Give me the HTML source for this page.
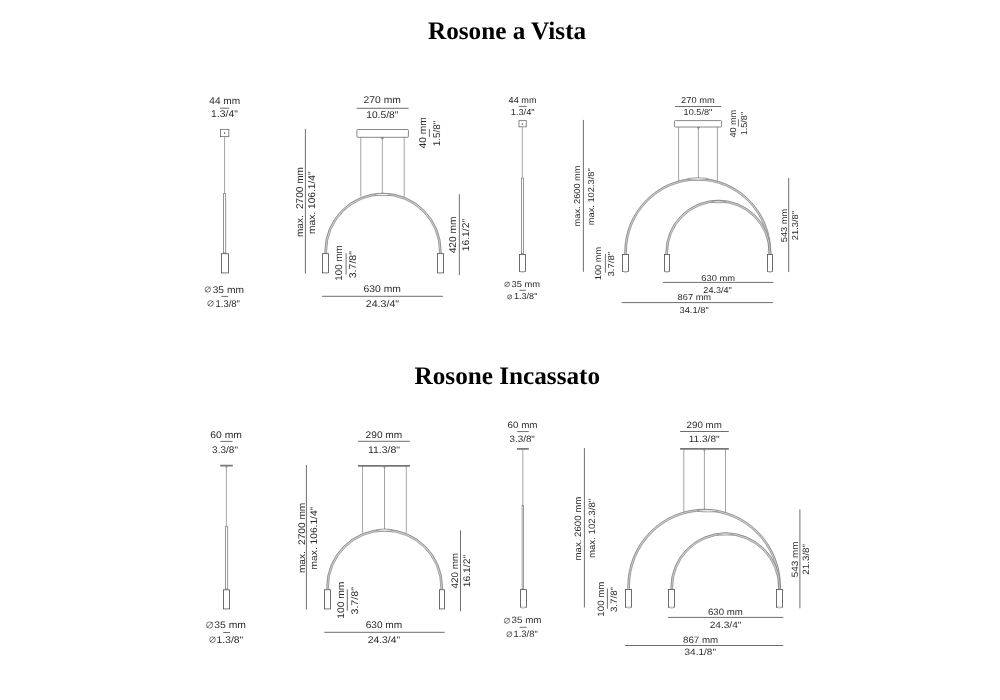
<!DOCTYPE html><html><head><meta charset="utf-8"><title>Rosone</title><style>html,body{margin:0;padding:0;background:#fff;width:1000px;height:700px;overflow:hidden}svg{display:block;filter:blur(0.3px)}text{font-family:"Liberation Sans",sans-serif;text-rendering:geometricPrecision}</style></head><body>
<svg width="1000" height="700" viewBox="0 0 1000 700">
<rect width="1000" height="700" fill="#fff"/>
<text x="507.1" y="39.0" text-anchor="middle" font-size="25.2" font-weight="bold" fill="#000" style="font-family:'Liberation Serif',serif">Rosone a Vista</text>
<text x="507.3" y="383.9" text-anchor="middle" font-size="25.2" font-weight="bold" fill="#000" style="font-family:'Liberation Serif',serif">Rosone Incassato</text>
<text x="224.77" y="104.12" text-anchor="middle" font-size="9.80" textLength="30.83" lengthAdjust="spacingAndGlyphs" fill="#2a2a2a">44 mm</text>
<text x="224.49" y="117.47" text-anchor="middle" font-size="9.80" textLength="26.70" lengthAdjust="spacingAndGlyphs" fill="#2a2a2a">1.3/4&quot;</text>
<text x="228.30" y="292.77" text-anchor="middle" font-size="9.80" textLength="31.22" lengthAdjust="spacingAndGlyphs" fill="#2a2a2a">35 mm</text>
<text x="227.77" y="306.94" text-anchor="middle" font-size="9.80" textLength="24.48" lengthAdjust="spacingAndGlyphs" fill="#2a2a2a">1.3/8&quot;</text>
<text x="382.28" y="103.45" text-anchor="middle" font-size="9.80" textLength="37.32" lengthAdjust="spacingAndGlyphs" fill="#2a2a2a">270 mm</text>
<text x="382.27" y="118.14" text-anchor="middle" font-size="9.80" textLength="32.03" lengthAdjust="spacingAndGlyphs" fill="#2a2a2a">10.5/8&quot;</text>
<text transform="translate(425.91,132.92) rotate(-90)" text-anchor="middle" font-size="9.80" textLength="31.24" lengthAdjust="spacingAndGlyphs" fill="#2a2a2a">40 mm</text>
<text transform="translate(440.11,133.49) rotate(-90)" text-anchor="middle" font-size="9.80" textLength="25.73" lengthAdjust="spacingAndGlyphs" fill="#2a2a2a">1.5/8&quot;</text>
<text transform="translate(302.59,202.07) rotate(-90)" text-anchor="middle" font-size="9.80" textLength="70.10" lengthAdjust="spacingAndGlyphs" fill="#2a2a2a">max.  2700 mm</text>
<text transform="translate(315.25,202.67) rotate(-90)" text-anchor="middle" font-size="9.80" textLength="62.72" lengthAdjust="spacingAndGlyphs" fill="#2a2a2a">max. 106.1/4&quot;</text>
<text transform="translate(341.95,262.97) rotate(-90)" text-anchor="middle" font-size="9.80" textLength="35.32" lengthAdjust="spacingAndGlyphs" fill="#2a2a2a">100 mm</text>
<text transform="translate(356.02,264.64) rotate(-90)" text-anchor="middle" font-size="9.80" textLength="27.27" lengthAdjust="spacingAndGlyphs" fill="#2a2a2a">3.7/8&quot;</text>
<text transform="translate(456.45,234.92) rotate(-90)" text-anchor="middle" font-size="9.80" textLength="36.90" lengthAdjust="spacingAndGlyphs" fill="#2a2a2a">420 mm</text>
<text transform="translate(469.04,235.06) rotate(-90)" text-anchor="middle" font-size="9.80" textLength="32.38" lengthAdjust="spacingAndGlyphs" fill="#2a2a2a">16.1/2&quot;</text>
<text x="382.28" y="292.23" text-anchor="middle" font-size="9.80" textLength="37.38" lengthAdjust="spacingAndGlyphs" fill="#2a2a2a">630 mm</text>
<text x="382.45" y="307.26" text-anchor="middle" font-size="9.80" textLength="33.24" lengthAdjust="spacingAndGlyphs" fill="#2a2a2a">24.3/4&quot;</text>
<text x="522.60" y="103.03" text-anchor="middle" font-size="8.60" textLength="27.92" lengthAdjust="spacingAndGlyphs" fill="#2a2a2a">44 mm</text>
<text x="522.68" y="114.95" text-anchor="middle" font-size="8.60" textLength="23.86" lengthAdjust="spacingAndGlyphs" fill="#2a2a2a">1.3/4&quot;</text>
<text x="525.90" y="286.92" text-anchor="middle" font-size="8.60" textLength="28.52" lengthAdjust="spacingAndGlyphs" fill="#2a2a2a">35 mm</text>
<text x="525.66" y="299.44" text-anchor="middle" font-size="8.60" textLength="23.46" lengthAdjust="spacingAndGlyphs" fill="#2a2a2a">1.3/8&quot;</text>
<text x="697.89" y="102.67" text-anchor="middle" font-size="8.60" textLength="33.50" lengthAdjust="spacingAndGlyphs" fill="#2a2a2a">270 mm</text>
<text x="697.98" y="114.65" text-anchor="middle" font-size="8.60" textLength="28.79" lengthAdjust="spacingAndGlyphs" fill="#2a2a2a">10.5/8&quot;</text>
<text transform="translate(735.68,123.71) rotate(-90)" text-anchor="middle" font-size="8.60" textLength="27.72" lengthAdjust="spacingAndGlyphs" fill="#2a2a2a">40 mm</text>
<text transform="translate(747.30,123.61) rotate(-90)" text-anchor="middle" font-size="8.60" textLength="23.44" lengthAdjust="spacingAndGlyphs" fill="#2a2a2a">1.5/8&quot;</text>
<text transform="translate(580.24,195.99) rotate(-90)" text-anchor="middle" font-size="8.60" textLength="60.80" lengthAdjust="spacingAndGlyphs" fill="#2a2a2a">max. 2600 mm</text>
<text transform="translate(593.69,196.79) rotate(-90)" text-anchor="middle" font-size="8.60" textLength="56.90" lengthAdjust="spacingAndGlyphs" fill="#2a2a2a">max. 102.3/8&quot;</text>
<text transform="translate(601.39,263.53) rotate(-90)" text-anchor="middle" font-size="8.60" textLength="33.41" lengthAdjust="spacingAndGlyphs" fill="#2a2a2a">100 mm</text>
<text transform="translate(614.13,264.23) rotate(-90)" text-anchor="middle" font-size="8.60" textLength="24.58" lengthAdjust="spacingAndGlyphs" fill="#2a2a2a">3.7/8&quot;</text>
<text transform="translate(786.77,225.50) rotate(-90)" text-anchor="middle" font-size="8.60" textLength="33.44" lengthAdjust="spacingAndGlyphs" fill="#2a2a2a">543 mm</text>
<text transform="translate(797.53,225.63) rotate(-90)" text-anchor="middle" font-size="8.60" textLength="29.16" lengthAdjust="spacingAndGlyphs" fill="#2a2a2a">21.3/8&quot;</text>
<text x="718.16" y="280.76" text-anchor="middle" font-size="8.60" textLength="33.71" lengthAdjust="spacingAndGlyphs" fill="#2a2a2a">630 mm</text>
<text x="717.62" y="292.51" text-anchor="middle" font-size="8.60" textLength="28.46" lengthAdjust="spacingAndGlyphs" fill="#2a2a2a">24.3/4&quot;</text>
<text x="694.35" y="300.25" text-anchor="middle" font-size="8.60" textLength="33.44" lengthAdjust="spacingAndGlyphs" fill="#2a2a2a">867 mm</text>
<text x="694.11" y="312.68" text-anchor="middle" font-size="8.60" textLength="29.29" lengthAdjust="spacingAndGlyphs" fill="#2a2a2a">34.1/8&quot;</text>
<text x="226.16" y="437.83" text-anchor="middle" font-size="9.55" textLength="31.70" lengthAdjust="spacingAndGlyphs" fill="#2a2a2a">60 mm</text>
<text x="225.05" y="452.61" text-anchor="middle" font-size="9.55" textLength="25.86" lengthAdjust="spacingAndGlyphs" fill="#2a2a2a">3.3/8&quot;</text>
<text x="230.09" y="628.01" text-anchor="middle" font-size="9.55" textLength="31.70" lengthAdjust="spacingAndGlyphs" fill="#2a2a2a">35 mm</text>
<text x="229.92" y="642.62" text-anchor="middle" font-size="9.55" textLength="26.80" lengthAdjust="spacingAndGlyphs" fill="#2a2a2a">1.3/8&quot;</text>
<text x="383.95" y="437.86" text-anchor="middle" font-size="9.55" textLength="36.69" lengthAdjust="spacingAndGlyphs" fill="#2a2a2a">290 mm</text>
<text x="383.95" y="452.83" text-anchor="middle" font-size="9.55" textLength="32.10" lengthAdjust="spacingAndGlyphs" fill="#2a2a2a">11.3/8&quot;</text>
<text transform="translate(304.61,537.92) rotate(-90)" text-anchor="middle" font-size="9.55" textLength="70.38" lengthAdjust="spacingAndGlyphs" fill="#2a2a2a">max.  2700 mm</text>
<text transform="translate(316.86,538.09) rotate(-90)" text-anchor="middle" font-size="9.55" textLength="62.60" lengthAdjust="spacingAndGlyphs" fill="#2a2a2a">max. 106.1/4&quot;</text>
<text transform="translate(343.79,600.16) rotate(-90)" text-anchor="middle" font-size="9.55" textLength="37.12" lengthAdjust="spacingAndGlyphs" fill="#2a2a2a">100 mm</text>
<text transform="translate(357.65,600.79) rotate(-90)" text-anchor="middle" font-size="9.55" textLength="27.45" lengthAdjust="spacingAndGlyphs" fill="#2a2a2a">3.7/8&quot;</text>
<text transform="translate(458.27,570.75) rotate(-90)" text-anchor="middle" font-size="9.55" textLength="35.72" lengthAdjust="spacingAndGlyphs" fill="#2a2a2a">420 mm</text>
<text transform="translate(470.42,571.10) rotate(-90)" text-anchor="middle" font-size="9.55" textLength="32.40" lengthAdjust="spacingAndGlyphs" fill="#2a2a2a">16.1/2&quot;</text>
<text x="383.96" y="628.49" text-anchor="middle" font-size="9.55" textLength="36.67" lengthAdjust="spacingAndGlyphs" fill="#2a2a2a">630 mm</text>
<text x="383.90" y="643.02" text-anchor="middle" font-size="9.55" textLength="32.34" lengthAdjust="spacingAndGlyphs" fill="#2a2a2a">24.3/4&quot;</text>
<text x="522.56" y="428.11" text-anchor="middle" font-size="9.20" textLength="29.98" lengthAdjust="spacingAndGlyphs" fill="#2a2a2a">60 mm</text>
<text x="522.16" y="442.34" text-anchor="middle" font-size="9.20" textLength="25.44" lengthAdjust="spacingAndGlyphs" fill="#2a2a2a">3.3/8&quot;</text>
<text x="526.56" y="623.39" text-anchor="middle" font-size="9.20" textLength="29.97" lengthAdjust="spacingAndGlyphs" fill="#2a2a2a">35 mm</text>
<text x="525.63" y="637.20" text-anchor="middle" font-size="9.20" textLength="24.22" lengthAdjust="spacingAndGlyphs" fill="#2a2a2a">1.3/8&quot;</text>
<text x="704.18" y="428.42" text-anchor="middle" font-size="9.20" textLength="35.32" lengthAdjust="spacingAndGlyphs" fill="#2a2a2a">290 mm</text>
<text x="704.15" y="442.42" text-anchor="middle" font-size="9.20" textLength="30.80" lengthAdjust="spacingAndGlyphs" fill="#2a2a2a">11.3/8&quot;</text>
<text transform="translate(581.09,528.56) rotate(-90)" text-anchor="middle" font-size="9.20" textLength="63.92" lengthAdjust="spacingAndGlyphs" fill="#2a2a2a">max. 2600 mm</text>
<text transform="translate(595.26,528.44) rotate(-90)" text-anchor="middle" font-size="9.20" textLength="59.26" lengthAdjust="spacingAndGlyphs" fill="#2a2a2a">max. 102.3/8&quot;</text>
<text transform="translate(603.58,599.16) rotate(-90)" text-anchor="middle" font-size="9.20" textLength="34.99" lengthAdjust="spacingAndGlyphs" fill="#2a2a2a">100 mm</text>
<text transform="translate(617.11,599.54) rotate(-90)" text-anchor="middle" font-size="9.20" textLength="25.03" lengthAdjust="spacingAndGlyphs" fill="#2a2a2a">3.7/8&quot;</text>
<text transform="translate(797.72,559.30) rotate(-90)" text-anchor="middle" font-size="9.20" textLength="35.90" lengthAdjust="spacingAndGlyphs" fill="#2a2a2a">543 mm</text>
<text transform="translate(809.21,559.35) rotate(-90)" text-anchor="middle" font-size="9.20" textLength="30.94" lengthAdjust="spacingAndGlyphs" fill="#2a2a2a">21.3/8&quot;</text>
<text x="725.44" y="615.29" text-anchor="middle" font-size="9.20" textLength="34.98" lengthAdjust="spacingAndGlyphs" fill="#2a2a2a">630 mm</text>
<text x="725.55" y="627.58" text-anchor="middle" font-size="9.20" textLength="31.77" lengthAdjust="spacingAndGlyphs" fill="#2a2a2a">24.3/4&quot;</text>
<text x="700.65" y="643.04" text-anchor="middle" font-size="9.20" textLength="35.18" lengthAdjust="spacingAndGlyphs" fill="#2a2a2a">867 mm</text>
<text x="700.25" y="655.32" text-anchor="middle" font-size="9.20" textLength="31.44" lengthAdjust="spacingAndGlyphs" fill="#2a2a2a">34.1/8&quot;</text>
<circle cx="207.85" cy="289.45" r="2.70" fill="none" stroke="#2a2a2a" stroke-width="0.62"/>
<line x1="205.28" y1="292.01" x2="210.41" y2="286.88" stroke="#2a2a2a" stroke-width="0.62"/>
<circle cx="210.55" cy="303.40" r="2.77" fill="none" stroke="#2a2a2a" stroke-width="0.62"/>
<line x1="207.91" y1="306.04" x2="213.19" y2="300.76" stroke="#2a2a2a" stroke-width="0.62"/>
<circle cx="507.10" cy="284.25" r="2.32" fill="none" stroke="#2a2a2a" stroke-width="0.62"/>
<line x1="504.89" y1="286.46" x2="509.31" y2="282.04" stroke="#2a2a2a" stroke-width="0.62"/>
<circle cx="509.70" cy="296.95" r="2.08" fill="none" stroke="#2a2a2a" stroke-width="0.62"/>
<line x1="507.73" y1="298.92" x2="511.67" y2="294.98" stroke="#2a2a2a" stroke-width="0.62"/>
<circle cx="209.65" cy="625.00" r="3.13" fill="none" stroke="#2a2a2a" stroke-width="0.62"/>
<line x1="206.68" y1="627.97" x2="212.62" y2="622.03" stroke="#2a2a2a" stroke-width="0.62"/>
<circle cx="212.50" cy="639.60" r="2.80" fill="none" stroke="#2a2a2a" stroke-width="0.62"/>
<line x1="209.84" y1="642.26" x2="215.16" y2="636.94" stroke="#2a2a2a" stroke-width="0.62"/>
<circle cx="506.95" cy="620.70" r="2.62" fill="none" stroke="#2a2a2a" stroke-width="0.62"/>
<line x1="504.46" y1="623.19" x2="509.44" y2="618.21" stroke="#2a2a2a" stroke-width="0.62"/>
<circle cx="509.35" cy="634.25" r="2.55" fill="none" stroke="#2a2a2a" stroke-width="0.62"/>
<line x1="506.93" y1="636.67" x2="511.77" y2="631.83" stroke="#2a2a2a" stroke-width="0.62"/>
<line x1="220.00" y1="108.20" x2="229.30" y2="108.20" stroke="#5e5e5e" stroke-width="0.9"/>
<rect x="220.45" y="129.35" width="8.40" height="7.30" rx="0" fill="#fff" stroke="#6a6a6a" stroke-width="0.8"/>
<circle cx="224.6" cy="132.9" r="0.75" fill="#444"/>
<line x1="224.60" y1="137.10" x2="224.60" y2="193.30" stroke="#858585" stroke-width="0.75"/>
<rect x="223.45" y="193.65" width="2.30" height="59.30" rx="0" fill="#fff" stroke="#6a6a6a" stroke-width="0.7"/>
<rect x="221.50" y="253.75" width="7.00" height="19.20" rx="0" fill="#fff" stroke="#4a4a4a" stroke-width="0.8"/>
<path d="M222.20,272.95 Q224.90,275.40 227.60,272.95" fill="#e4e4e4" stroke="#aaa" stroke-width="0.5"/>
<line x1="221.40" y1="296.40" x2="228.20" y2="296.40" stroke="#5e5e5e" stroke-width="0.9"/>
<line x1="356.70" y1="108.30" x2="408.60" y2="108.30" stroke="#5e5e5e" stroke-width="0.9"/>
<rect x="356.90" y="129.50" width="51.50" height="7.80" rx="0.9" fill="#fff" stroke="#6a6a6a" stroke-width="0.8"/>
<path d="M380.9,137.3 L382.4,139.2 L383.9,137.3" fill="none" stroke="#555" stroke-width="0.8"/>
<line x1="360.80" y1="137.20" x2="360.80" y2="196.50" stroke="#858585" stroke-width="0.75"/>
<line x1="382.30" y1="137.20" x2="382.30" y2="194.00" stroke="#858585" stroke-width="0.75"/>
<line x1="404.20" y1="137.20" x2="404.20" y2="197.00" stroke="#858585" stroke-width="0.75"/>
<line x1="429.40" y1="129.10" x2="429.40" y2="136.90" stroke="#5e5e5e" stroke-width="0.9"/>
<line x1="305.40" y1="128.90" x2="305.40" y2="273.70" stroke="#5e5e5e" stroke-width="0.9"/>
<path d="M325.70,253.30 L325.70,251.30 A57.30,57.30 0 0 1 440.30,251.30 L440.30,253.30" fill="none" stroke="#cdcdcd" stroke-width="1.8"/>
<path d="M324.80,253.30 L324.80,251.30 A58.20,58.20 0 0 1 441.20,251.30 L441.20,253.30" fill="none" stroke="#666" stroke-width="0.6"/>
<path d="M326.60,253.30 L326.60,251.30 A56.40,56.40 0 0 1 439.40,251.30 L439.40,253.30" fill="none" stroke="#666" stroke-width="0.6"/>
<ellipse cx="382.55" cy="194.55" rx="8.15" ry="1.05" fill="#fff" stroke="#6a6a6a" stroke-width="0.6"/>
<rect x="322.50" y="253.65" width="6.00" height="19.20" rx="0" fill="#fff" stroke="#4a4a4a" stroke-width="0.8"/>
<path d="M323.30,272.85 Q325.70,275.30 328.10,272.85" fill="#e4e4e4" stroke="#aaa" stroke-width="0.5"/>
<rect x="437.50" y="253.65" width="6.00" height="19.20" rx="0" fill="#fff" stroke="#4a4a4a" stroke-width="0.8"/>
<path d="M437.50,272.85 Q440.05,275.30 442.60,272.85" fill="#e4e4e4" stroke="#aaa" stroke-width="0.5"/>
<line x1="346.10" y1="253.20" x2="346.10" y2="274.60" stroke="#5e5e5e" stroke-width="0.9"/>
<line x1="459.35" y1="194.20" x2="459.35" y2="275.10" stroke="#5e5e5e" stroke-width="0.9"/>
<line x1="322.00" y1="296.30" x2="442.90" y2="296.30" stroke="#5e5e5e" stroke-width="0.9"/>
<line x1="519.00" y1="106.40" x2="526.70" y2="106.40" stroke="#5e5e5e" stroke-width="0.9"/>
<rect x="518.95" y="120.65" width="7.30" height="6.20" rx="0" fill="#fff" stroke="#6a6a6a" stroke-width="0.8"/>
<circle cx="522.4" cy="124" r="0.7" fill="#444"/>
<line x1="522.30" y1="127.30" x2="522.30" y2="177.60" stroke="#858585" stroke-width="0.75"/>
<rect x="521.55" y="178.05" width="2.10" height="75.70" rx="0" fill="#fff" stroke="#6a6a6a" stroke-width="0.7"/>
<rect x="519.50" y="254.55" width="6.00" height="17.00" rx="0" fill="#fff" stroke="#4a4a4a" stroke-width="0.8"/>
<path d="M520.10,271.55 Q522.50,274.00 524.90,271.55" fill="#e4e4e4" stroke="#aaa" stroke-width="0.5"/>
<line x1="519.40" y1="290.30" x2="525.90" y2="290.30" stroke="#5e5e5e" stroke-width="0.9"/>
<line x1="675.00" y1="106.50" x2="721.20" y2="106.50" stroke="#5e5e5e" stroke-width="0.9"/>
<rect x="674.50" y="120.60" width="47.10" height="6.40" rx="0.8" fill="#fff" stroke="#6a6a6a" stroke-width="0.8"/>
<path d="M697.2,127.1 L698.4,128.8 L699.6,127.1" fill="none" stroke="#555" stroke-width="0.7"/>
<line x1="678.60" y1="127.00" x2="678.60" y2="181.00" stroke="#858585" stroke-width="0.75"/>
<line x1="698.40" y1="127.00" x2="698.40" y2="179.00" stroke="#858585" stroke-width="0.75"/>
<line x1="717.40" y1="127.00" x2="717.40" y2="181.00" stroke="#858585" stroke-width="0.75"/>
<line x1="738.40" y1="119.30" x2="738.40" y2="126.70" stroke="#5e5e5e" stroke-width="0.9"/>
<line x1="583.40" y1="119.90" x2="583.40" y2="271.80" stroke="#5e5e5e" stroke-width="0.9"/>
<path d="M625.55,254.00 L625.55,252.40 A72.20,73.20 0 0 1 769.95,252.40 L769.95,254.00" fill="none" stroke="#cdcdcd" stroke-width="1.8"/>
<path d="M624.65,254.00 L624.65,252.40 A73.10,74.10 0 0 1 770.85,252.40 L770.85,254.00" fill="none" stroke="#666" stroke-width="0.6"/>
<path d="M626.45,254.00 L626.45,252.40 A71.30,72.30 0 0 1 769.05,252.40 L769.05,254.00" fill="none" stroke="#666" stroke-width="0.6"/>
<ellipse cx="698.00" cy="178.95" rx="10.50" ry="1.05" fill="#fff" stroke="#6a6a6a" stroke-width="0.6"/>
<path d="M666.70,254.00 L666.70,252.60 A51.60,51.60 0 0 1 769.90,252.60 L769.90,254.00" fill="none" stroke="#cdcdcd" stroke-width="1.8"/>
<path d="M665.80,254.00 L665.80,252.60 A52.50,52.50 0 0 1 770.80,252.60 L770.80,254.00" fill="none" stroke="#666" stroke-width="0.6"/>
<path d="M667.60,254.00 L667.60,252.60 A50.70,50.70 0 0 1 769.00,252.60 L769.00,254.00" fill="none" stroke="#666" stroke-width="0.6"/>
<ellipse cx="718.50" cy="201.90" rx="7.20" ry="0.90" fill="#fff" stroke="#6a6a6a" stroke-width="0.6"/>
<rect x="622.50" y="254.45" width="6.00" height="17.10" rx="0" fill="#fff" stroke="#4a4a4a" stroke-width="0.8"/>
<path d="M623.30,271.55 Q625.55,274.00 627.80,271.55" fill="#e4e4e4" stroke="#aaa" stroke-width="0.5"/>
<rect x="664.50" y="254.45" width="5.00" height="17.10" rx="0" fill="#fff" stroke="#4a4a4a" stroke-width="0.8"/>
<path d="M664.50,271.55 Q666.75,274.00 669.00,271.55" fill="#e4e4e4" stroke="#aaa" stroke-width="0.5"/>
<rect x="767.50" y="254.45" width="5.00" height="17.10" rx="0" fill="#fff" stroke="#4a4a4a" stroke-width="0.8"/>
<path d="M767.70,271.55 Q769.90,274.00 772.10,271.55" fill="#e4e4e4" stroke="#aaa" stroke-width="0.5"/>
<line x1="605.40" y1="253.90" x2="605.40" y2="272.70" stroke="#5e5e5e" stroke-width="0.9"/>
<line x1="788.70" y1="178.00" x2="788.70" y2="272.10" stroke="#5e5e5e" stroke-width="0.9"/>
<line x1="663.10" y1="282.40" x2="773.40" y2="282.40" stroke="#5e5e5e" stroke-width="0.9"/>
<line x1="621.70" y1="302.60" x2="772.90" y2="302.60" stroke="#5e5e5e" stroke-width="0.9"/>
<line x1="220.30" y1="441.40" x2="232.50" y2="441.40" stroke="#5e5e5e" stroke-width="0.9"/>
<line x1="220.20" y1="465.60" x2="232.80" y2="465.60" stroke="#777" stroke-width="1.7"/>
<path d="M225.2,466.3 L226.4,468 L227.6,466.3" fill="none" stroke="#777" stroke-width="0.6"/>
<line x1="226.40" y1="466.00" x2="226.40" y2="526.30" stroke="#858585" stroke-width="0.75"/>
<rect x="225.55" y="526.75" width="2.20" height="62.30" rx="0" fill="#fff" stroke="#6a6a6a" stroke-width="0.7"/>
<rect x="223.50" y="589.85" width="6.00" height="19.00" rx="0" fill="#fff" stroke="#4a4a4a" stroke-width="0.8"/>
<path d="M224.10,608.85 Q226.55,611.30 229.00,608.85" fill="#e4e4e4" stroke="#aaa" stroke-width="0.5"/>
<line x1="223.20" y1="632.50" x2="230.00" y2="632.50" stroke="#5e5e5e" stroke-width="0.9"/>
<line x1="358.00" y1="441.30" x2="409.90" y2="441.30" stroke="#5e5e5e" stroke-width="0.9"/>
<line x1="358.00" y1="465.80" x2="410.00" y2="465.80" stroke="#777" stroke-width="1.7"/>
<path d="M383.3,466.5 L384.5,468.2 L385.7,466.5" fill="none" stroke="#777" stroke-width="0.6"/>
<line x1="362.50" y1="466.00" x2="362.50" y2="532.80" stroke="#858585" stroke-width="0.75"/>
<line x1="384.50" y1="466.00" x2="384.50" y2="530.00" stroke="#858585" stroke-width="0.75"/>
<line x1="406.30" y1="466.00" x2="406.30" y2="532.80" stroke="#858585" stroke-width="0.75"/>
<line x1="306.40" y1="465.00" x2="306.40" y2="609.60" stroke="#5e5e5e" stroke-width="0.9"/>
<path d="M327.50,589.30 L327.50,587.30 A57.10,57.10 0 0 1 441.70,587.30 L441.70,589.30" fill="none" stroke="#cdcdcd" stroke-width="1.8"/>
<path d="M326.60,589.30 L326.60,587.30 A58.00,58.00 0 0 1 442.60,587.30 L442.60,589.30" fill="none" stroke="#666" stroke-width="0.6"/>
<path d="M328.40,589.30 L328.40,587.30 A56.20,56.20 0 0 1 440.80,587.30 L440.80,589.30" fill="none" stroke="#666" stroke-width="0.6"/>
<ellipse cx="384.50" cy="530.15" rx="8.20" ry="1.05" fill="#fff" stroke="#6a6a6a" stroke-width="0.6"/>
<rect x="324.50" y="589.75" width="6.00" height="19.20" rx="0" fill="#fff" stroke="#4a4a4a" stroke-width="0.8"/>
<path d="M325.20,608.95 Q327.50,611.40 329.80,608.95" fill="#e4e4e4" stroke="#aaa" stroke-width="0.5"/>
<rect x="439.50" y="589.75" width="5.00" height="19.20" rx="0" fill="#fff" stroke="#4a4a4a" stroke-width="0.8"/>
<path d="M439.50,608.95 Q441.70,611.40 443.90,608.95" fill="#e4e4e4" stroke="#aaa" stroke-width="0.5"/>
<line x1="347.30" y1="589.30" x2="347.30" y2="610.70" stroke="#5e5e5e" stroke-width="0.9"/>
<line x1="460.50" y1="530.30" x2="460.50" y2="611.20" stroke="#5e5e5e" stroke-width="0.9"/>
<line x1="324.30" y1="632.30" x2="444.70" y2="632.30" stroke="#5e5e5e" stroke-width="0.9"/>
<line x1="517.00" y1="431.60" x2="528.80" y2="431.60" stroke="#5e5e5e" stroke-width="0.9"/>
<line x1="517.00" y1="448.90" x2="528.80" y2="448.90" stroke="#777" stroke-width="1.7"/>
<line x1="522.80" y1="449.00" x2="522.80" y2="504.90" stroke="#858585" stroke-width="0.75"/>
<rect x="522.10" y="505.20" width="1.50" height="83.80" rx="0" fill="#fff" stroke="#6a6a6a" stroke-width="0.65"/>
<rect x="520.50" y="589.65" width="6.00" height="17.60" rx="0" fill="#fff" stroke="#4a4a4a" stroke-width="0.8"/>
<path d="M520.50,607.25 Q523.20,609.70 525.90,607.25" fill="#e4e4e4" stroke="#aaa" stroke-width="0.5"/>
<line x1="519.70" y1="627.30" x2="526.60" y2="627.30" stroke="#5e5e5e" stroke-width="0.9"/>
<line x1="680.10" y1="431.50" x2="728.70" y2="431.50" stroke="#5e5e5e" stroke-width="0.9"/>
<line x1="680.10" y1="448.90" x2="728.80" y2="448.90" stroke="#777" stroke-width="1.7"/>
<path d="M703.3,449.6 L704.4,451.2 L705.5,449.6" fill="none" stroke="#777" stroke-width="0.6"/>
<line x1="683.80" y1="449.00" x2="683.80" y2="512.50" stroke="#858585" stroke-width="0.75"/>
<line x1="704.40" y1="449.00" x2="704.40" y2="510.30" stroke="#858585" stroke-width="0.75"/>
<line x1="725.50" y1="449.00" x2="725.50" y2="512.50" stroke="#858585" stroke-width="0.75"/>
<line x1="584.40" y1="448.10" x2="584.40" y2="607.40" stroke="#5e5e5e" stroke-width="0.9"/>
<path d="M628.60,588.80 L628.60,586.60 A75.50,76.50 0 0 1 779.60,586.60 L779.60,588.80" fill="none" stroke="#cdcdcd" stroke-width="1.8"/>
<path d="M627.70,588.80 L627.70,586.60 A76.40,77.40 0 0 1 780.50,586.60 L780.50,588.80" fill="none" stroke="#666" stroke-width="0.6"/>
<path d="M629.50,588.80 L629.50,586.60 A74.60,75.60 0 0 1 778.70,586.60 L778.70,588.80" fill="none" stroke="#666" stroke-width="0.6"/>
<ellipse cx="707.50" cy="510.85" rx="10.20" ry="1.05" fill="#fff" stroke="#6a6a6a" stroke-width="0.6"/>
<path d="M671.70,589.00 L671.70,587.60 A53.90,53.90 0 0 1 779.50,587.60 L779.50,589.00" fill="none" stroke="#cdcdcd" stroke-width="1.8"/>
<path d="M670.80,589.00 L670.80,587.60 A54.80,54.80 0 0 1 780.40,587.60 L780.40,589.00" fill="none" stroke="#666" stroke-width="0.6"/>
<path d="M672.60,589.00 L672.60,587.60 A53.00,53.00 0 0 1 778.60,587.60 L778.60,589.00" fill="none" stroke="#666" stroke-width="0.6"/>
<ellipse cx="725.00" cy="534.00" rx="7.70" ry="0.90" fill="#fff" stroke="#6a6a6a" stroke-width="0.6"/>
<rect x="625.50" y="589.45" width="6.00" height="17.80" rx="0" fill="#fff" stroke="#4a4a4a" stroke-width="0.8"/>
<path d="M626.10,607.25 Q628.60,609.70 631.10,607.25" fill="#e4e4e4" stroke="#aaa" stroke-width="0.5"/>
<rect x="668.50" y="589.45" width="6.00" height="17.80" rx="0" fill="#fff" stroke="#4a4a4a" stroke-width="0.8"/>
<path d="M669.10,607.25 Q671.70,609.70 674.30,607.25" fill="#e4e4e4" stroke="#aaa" stroke-width="0.5"/>
<rect x="776.50" y="589.45" width="6.00" height="17.80" rx="0" fill="#fff" stroke="#4a4a4a" stroke-width="0.8"/>
<path d="M777.20,607.25 Q779.55,609.70 781.90,607.25" fill="#e4e4e4" stroke="#aaa" stroke-width="0.5"/>
<line x1="607.40" y1="588.50" x2="607.40" y2="608.80" stroke="#5e5e5e" stroke-width="0.9"/>
<line x1="799.90" y1="509.40" x2="799.90" y2="608.30" stroke="#5e5e5e" stroke-width="0.9"/>
<line x1="668.10" y1="617.40" x2="783.30" y2="617.40" stroke="#5e5e5e" stroke-width="0.9"/>
<line x1="624.90" y1="645.50" x2="783.30" y2="645.50" stroke="#5e5e5e" stroke-width="0.9"/>
</svg></body></html>
